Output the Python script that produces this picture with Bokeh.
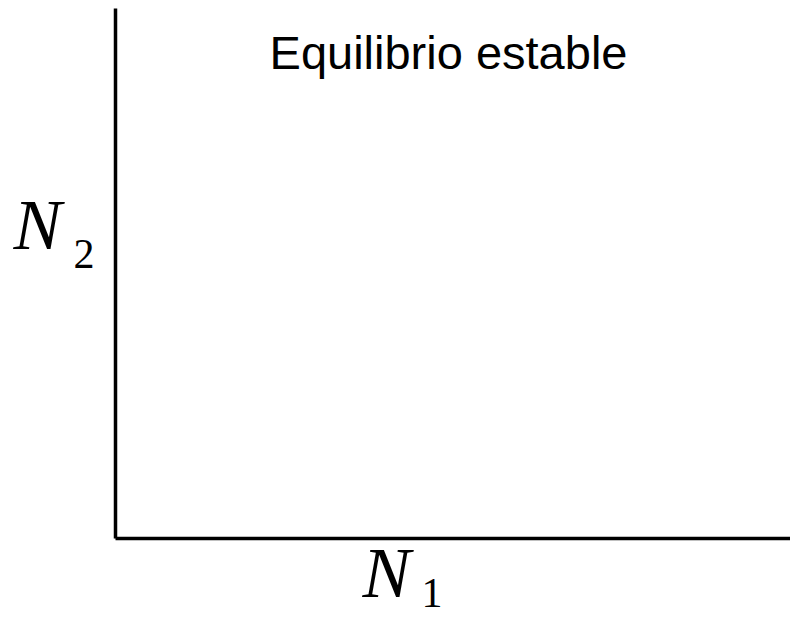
from bokeh.plotting import figure
from bokeh.models import Range1d, Label, FixedTicker
from bokeh.embed import file_html
from bokeh.resources import INLINE

# Content (no data series in this schematic chart)
title_text = "Equilibrio estable"
x_var, x_sub = "N", "1"
y_var, y_sub = "N", "2"

W, H = 790, 617
OX, OY = 114.5, 537.5   # pixel position of the axes' origin

p = figure(width=W, height=H, output_backend="svg", toolbar_location=None,
           x_range=Range1d(-OX, W - OX), y_range=Range1d(OY - H, OY),
           min_border=0)
p.outline_line_color = None
p.grid.visible = False
p.background_fill_color = "white"
p.border_fill_color = "white"
for ax in (p.xaxis[0], p.yaxis[0]):
    ax.ticker = FixedTicker(ticks=[])
    ax.fixed_location = 0
    ax.axis_line_width = 3.5
    ax.axis_line_color = "black"
    ax.major_tick_line_color = None
    ax.minor_tick_line_color = None
    ax.major_tick_in = 0
    ax.major_tick_out = 0
    ax.minor_tick_in = 0
    ax.minor_tick_out = 0
    ax.major_label_standoff = 0
    ax.major_label_text_font_size = "0px"
p.xaxis[0].bounds = (0, W - OX)
p.yaxis[0].bounds = (0, OY - 8)

def px(xp):
    return xp - OX

def py(yp, size):
    # compensate for the renderer's baseline offset (~0.39 em)
    return OY - (yp - 0.39 * size)

p.add_layout(Label(x=px(448), y=py(70, 47), text=title_text, text_align="center",
                   text_baseline="alphabetic", text_font="Liberation Sans",
                   text_font_size="47px", text_color="black"))

serif = "Liberation Serif"
p.add_layout(Label(x=px(13), y=py(253, 72), text=y_var, text_font=serif,
                   text_font_style="italic", text_font_size="72px",
                   text_baseline="alphabetic", text_color="black"))
p.add_layout(Label(x=px(73), y=py(270, 42), text=y_sub, text_font=serif,
                   text_font_style="normal", text_font_size="42px",
                   text_baseline="alphabetic", text_color="black"))
p.add_layout(Label(x=px(362), y=py(601, 72), text=x_var, text_font=serif,
                   text_font_style="italic", text_font_size="72px",
                   text_baseline="alphabetic", text_color="black"))
p.add_layout(Label(x=px(421), y=py(609, 42), text=x_sub, text_font=serif,
                   text_font_style="normal", text_font_size="42px",
                   text_baseline="alphabetic", text_color="black"))

open("out.html", "w").write(file_html(p, INLINE))
